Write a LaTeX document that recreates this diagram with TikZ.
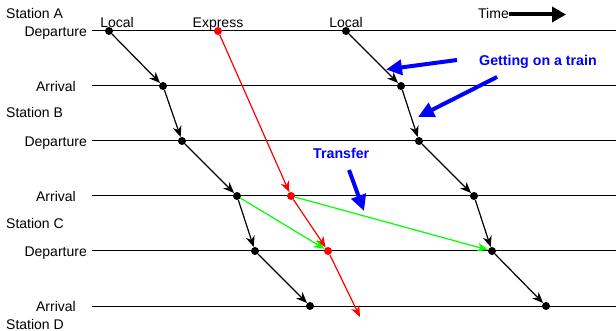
\documentclass[tikz,border=0pt]{standalone}
\usepackage{fontspec}
\setmainfont{Liberation Sans}
\usetikzlibrary{arrows.meta}
\definecolor{pblue}{RGB}{0,0,255}
\definecolor{pgreen}{RGB}{0,255,0}
\definecolor{pred}{RGB}{255,0,0}
\begin{document}
\begin{tikzpicture}[x=1pt,y=-1pt,
  every node/.style={font=\fontsize{14}{16}\selectfont, inner sep=0pt},
  track/.style={line width=1pt, draw=black},
  dot/.style={circle, fill=#1, minimum size=8pt, inner sep=0pt},
  dot/.default=black,
  run/.style={line width=1.2pt, draw=#1, -{Stealth[length=11pt,width=9pt]}},
  run/.default=black,
  bigarrow/.style={draw=pblue, line width=4pt, -{Triangle[length=16pt,width=15pt]}},
  bluetext/.style={text=pblue, font=\fontsize{14.2}{16}\selectfont\bfseries},
  lab/.style={anchor=base east},
  stn/.style={anchor=base west}
]
\useasboundingbox (0,0) rectangle (616,331);
% horizontal tracks
\foreach \n/\y in {1/31,2/86,3/141,4/196,5/251,6/306}{
  \coordinate (h\n s) at (92,\y);
  \coordinate (h\n e) at (616,\y);
  \draw[track] (h\n s) -- (h\n e);
}
% left labels
\node[stn] (sA) at (6,19) {Station A};
\node[lab] (d1) at (87,36.5) {Departure};
\node[lab] (a2) at (76,91.5) {Arrival};
\node[stn] (sB) at (6,118) {Station B};
\node[lab] (d3) at (87,146.5) {Departure};
\node[lab] (a4) at (76,201.5) {Arrival};
\node[stn] (sC) at (6,229) {Station C};
\node[lab] (d5) at (87,256.5) {Departure};
\node[lab] (a6) at (76,311.5) {Arrival};
\node[stn] (sD) at (6,329) {Station D};
% train labels
\node[anchor=base] (tl1) at (117,27.5) {Local};
\node[anchor=base] (te) at (218,27.5) {Express};
\node[anchor=base] (tl2) at (346,27.5) {Local};
% time arrow
\node[anchor=base west] (time) at (478,18.5) {Time};
\coordinate (timeEnd) at (566,14.5);
\draw[line width=4pt, -{Triangle[length=14pt,width=15pt]}] (time.east |- timeEnd) -- (timeEnd);
% dots: local 1
\node[dot] (p1) at (109,31) {};
\node[dot] (p2) at (163,86) {};
\node[dot] (p3) at (182,141) {};
\node[dot] (p4) at (237,196) {};
\node[dot] (p5) at (255,251) {};
\node[dot] (p6) at (310,306) {};
% express
\node[dot=pred] (e1) at (218,31) {};
\node[dot=pred] (e4) at (291,196) {};
\node[dot=pred] (e5) at (328,251) {};
\coordinate (eEnd) at (360,317);
% local 2
\node[dot] (q1) at (346,31) {};
\node[dot] (q2) at (401,86) {};
\node[dot] (q3) at (419,141) {};
\node[dot] (q4) at (474,196) {};
\node[dot] (q5) at (492,251) {};
\node[dot] (q6) at (546,306) {};
% runs
\draw[run] (p1) -- (p2);
\draw[run] (p2) -- (p3);
\draw[run] (p3) -- (p4);
\draw[run] (p4) -- (p5);
\draw[run] (p5) -- (p6);
\draw[run] (q1) -- (q2);
\draw[run] (q2) -- (q3);
\draw[run] (q3) -- (q4);
\draw[run] (q4) -- (q5);
\draw[run] (q5) -- (q6);
\draw[run=pred] (e1) -- (e4);
\draw[run=pred] (e4) -- (e5);
\draw[run=pred] (e5) -- (eEnd);
% transfers
\draw[run=pgreen] (p4) -- (e5);
\draw[run=pgreen] (e4) -- (q5);
% annotations
\node[bluetext, anchor=base west] (got) at (479,66) {Getting on a train};
\node[bluetext, anchor=base west] (tr) at (313,159) {Transfer};
\coordinate (g1s) at (457,60);
\coordinate (g1e) at (386,69.5);
\coordinate (g2s) at (497,77);
\coordinate (g2e) at (418,117);
\coordinate (t1s) at (349,170);
\coordinate (t1e) at (364,211);
\draw[bigarrow] (g1s) -- (g1e);
\draw[bigarrow] (g2s) -- (g2e);
\draw[bigarrow] (t1s) -- (t1e);
\end{tikzpicture}
\end{document}
